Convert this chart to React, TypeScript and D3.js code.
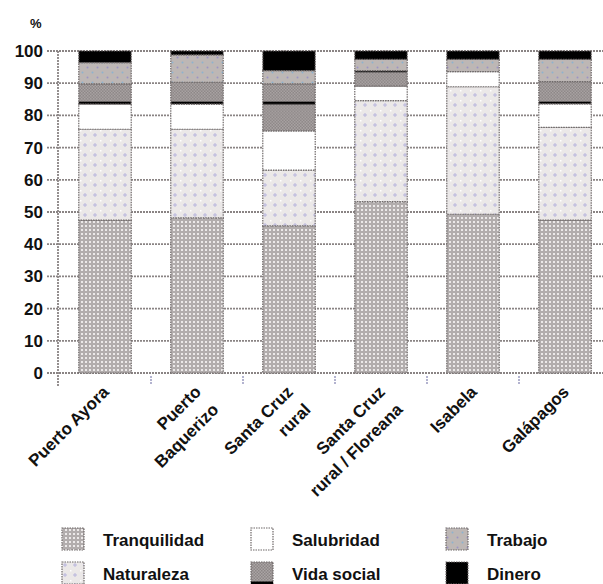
import React from 'react';
import * as d3 from 'd3';

const categories: string[][] = [
  ['Puerto Ayora'],
  ['Puerto', 'Baquerizo'],
  ['Santa Cruz', 'rural'],
  ['Santa Cruz', 'rural / Floreana'],
  ['Isabela'],
  ['Galápagos'],
];
const seriesNames = ['Tranquilidad', 'Naturaleza', 'Salubridad', 'Vida social', 'Trabajo', 'Dinero'];
const tranquilidad = [47.5, 48.2, 45.7, 53.2, 49.3, 47.5];
const naturaleza = [28.2, 27.5, 17.3, 31.4, 39.6, 28.8];
const salubridad = [7.8, 7.8, 12.2, 4.5, 4.7, 7.3];
const vidaSocial = [6.3, 6.8, 14.6, 4.8, 0, 6.9];
const trabajo = [6.6, 8.5, 4.1, 3.5, 3.8, 6.9];
const dinero = [3.6, 1.2, 6.1, 2.6, 2.6, 2.6];
const yTicks = [0, 10, 20, 30, 40, 50, 60, 70, 80, 90, 100];

const W = 603;
const H = 584;
const FONT = "'Liberation Sans', Arial, sans-serif";

const fills: Record<string, string> = {
  Tranquilidad: 'url(#pTranq)',
  Naturaleza: 'url(#pNat)',
  Salubridad: '#ffffff',
  'Vida social': 'url(#pVida)',
  Trabajo: 'url(#pTrab)',
  Dinero: '#000000',
};

export default function App() {
  const y = d3.scaleLinear().domain([0, 100]).range([373, 51]);
  const x = d3
    .scaleBand<number>()
    .domain(d3.range(categories.length))
    .range([59, 611])
    .paddingInner(0.43)
    .paddingOuter(0.215);

  const rows = categories.map((_, i) => ({
    Tranquilidad: tranquilidad[i],
    Naturaleza: naturaleza[i],
    Salubridad: salubridad[i],
    'Vida social': vidaSocial[i],
    Trabajo: trabajo[i],
    Dinero: dinero[i],
  }));
  const stacked = d3.stack<any>().keys(seriesNames)(rows);

  const step = x.step();
  const boundaries = d3.range(1, categories.length).map((i) => (x(i) as number) - (step * x.paddingInner()) / 2);
  const tickGap = y(0) - y(10);
  const vidaLineY = y(83.8) - 1.5;

  const legendCols = [62, 251, 446];
  const legendRows = [528, 562];

  return (
    <svg width={W} height={H} style={{ position: 'absolute', left: 0, top: 0, background: '#fff' }} fontFamily={FONT}>
      <defs>
        <pattern id="pTranq" patternUnits="userSpaceOnUse" width={4} height={4}>
          <rect width={4} height={4} fill="#b2adad" />
          <rect x={1} y={1} width={2} height={2} fill="#ece9e9" />
        </pattern>
        <pattern id="pNat" patternUnits="userSpaceOnUse" width={10} height={10}>
          <rect width={10} height={10} fill="#ebe8e8" />
          <rect x={0} y={0} width={1.5} height={1.5} fill="#ffffff" />
          <rect x={4.5} y={3} width={1} height={4} fill="#b9b6dc" />
          <rect x={3} y={4.5} width={4} height={1} fill="#b9b6dc" />
        </pattern>
        <pattern id="pCheck" patternUnits="userSpaceOnUse" width={3} height={3}>
          <rect width={3} height={3} fill="#aaa4a4" />
          <rect x={0} y={0} width={1.5} height={1.5} fill="#8c8686" />
          <rect x={1.5} y={1.5} width={1.5} height={1.5} fill="#8c8686" />
        </pattern>
        <pattern id="pVida" patternUnits="userSpaceOnUse" x={0} y={vidaLineY} width={6} height={tickGap}>
          <rect width={6} height={tickGap} fill="url(#pCheck)" />
          <rect width={6} height={2.6} fill="#000" />
        </pattern>
        <pattern id="pTrab" patternUnits="userSpaceOnUse" width={10} height={10}>
          <rect width={10} height={10} fill="#bdb7b5" />
          <circle cx={2.5} cy={2.5} r={1} fill="#8db3cf" />
          <circle cx={7.5} cy={7.5} r={1} fill="#9d94c6" />
        </pattern>
      </defs>

      {/* percent label */}
      <text x={30} y={28} fontSize={13} fontWeight="bold" fill="#111">%</text>

      {/* gridlines and y ticks */}
      {yTicks.map((t) => (
        <g key={t}>
          <line x1={47} x2={W} y1={y(t)} y2={y(t)} stroke="#8a8484" strokeWidth={1.8} strokeDasharray="2,1" />
          <text x={43} y={y(t) + 6} fontSize={17} fontWeight="bold" textAnchor="end" fill="#111">
            {t}
          </text>
        </g>
      ))}
      {/* y axis */}
      <line x1={58} x2={58} y1={y(100)} y2={386} stroke="#8a8484" strokeWidth={1.8} strokeDasharray="2,1" />
      {/* bottom category ticks */}
      {boundaries.map((b, i) => (
        <line key={i} x1={b} x2={b} y1={376} y2={384} stroke="#9a9ac0" strokeWidth={1.5} strokeDasharray="2,1" />
      ))}

      {/* bars */}
      {stacked.map((s) => (
        <g key={s.key}>
          {s.map((d, i) =>
            d[1] - d[0] > 0 ? (
              <rect
                key={i}
                x={x(i)}
                y={y(d[1])}
                width={x.bandwidth()}
                height={y(d[0]) - y(d[1])}
                fill={fills[s.key]}
                stroke="#6e6868"
                strokeWidth={1.2}
                strokeDasharray="1.5,1"
              />
            ) : null
          )}
        </g>
      ))}

      {/* x labels */}
      {categories.map((lines, i) => {
        const cx = (x(i) as number) + x.bandwidth() / 2 + 5;
        return (
          <g key={i} transform={`translate(${cx},393) rotate(-45)`}>
            {lines.map((l, j) => (
              <text key={j} x={0} y={j * 25} fontSize={17} fontWeight="bold" textAnchor="end" fill="#111">
                {l}
              </text>
            ))}
          </g>
        );
      })}

      {/* legend */}
      {seriesNames.map((name, k) => {
        const col = Math.floor(k / 2);
        const row = k % 2;
        const lx = legendCols[col];
        const ly = legendRows[row];
        return (
          <g key={name}>
            <rect
              x={lx}
              y={ly}
              width={22}
              height={22}
              fill={name === 'Vida social' ? 'url(#pCheck)' : fills[name]}
              stroke="#6e6868"
              strokeWidth={1.2}
              strokeDasharray="1.5,1"
            />
            {name === 'Vida social' ? <rect x={lx} y={ly + 19.5} width={22} height={2.5} fill="#000" /> : null}
            <text x={lx + 41} y={ly + 18} fontSize={17} fontWeight="bold" fill="#111">
              {name}
            </text>
          </g>
        );
      })}
    </svg>
  );
}
